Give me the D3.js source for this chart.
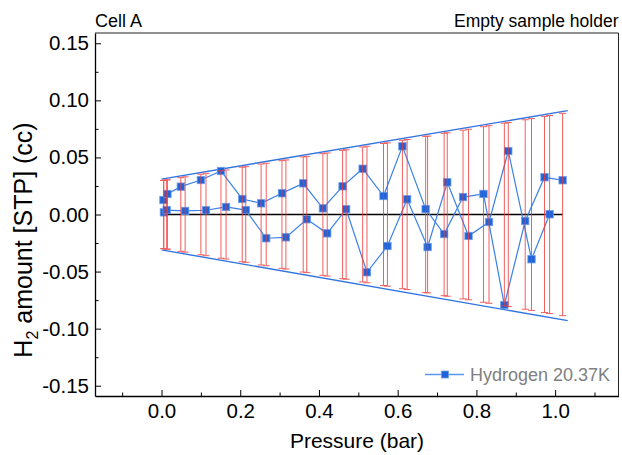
<!DOCTYPE html>
<html lang="en">
<head>
<meta charset="UTF-8">
<title>Cell A - Empty sample holder</title>
<script src="https://d3js.org/d3.v7.min.js"></script>
<style>
  body { margin: 0; background: #fff; }
  text { font-family: "Liberation Sans", Arial, sans-serif; }
</style>
</head>
<body>
<svg width="622" height="455"></svg>
<script>
// branch A (lower pressure of each pair)
const pressureA = [0.005, 0.015, 0.049, 0.100, 0.151, 0.205, 0.253, 0.306, 0.360, 0.410, 0.460,
                   0.511, 0.564, 0.612, 0.671, 0.718, 0.766, 0.818, 0.871, 0.924, 0.973, 1.019];
const amountA   = [0.0127, 0.0180, 0.0244, 0.0302, 0.0381, 0.0136, 0.0098, 0.0186, 0.0273, 0.0054, 0.0247,
                   0.0401, 0.0162, 0.0597, 0.0048, -0.0171, 0.0153, 0.0180, -0.0793, -0.0057, 0.0326, 0.0300];
const errorA    = [0.0298, 0.0304, 0.0323, 0.0353, 0.0383, 0.0414, 0.0442, 0.0472, 0.0504, 0.0533, 0.0562,
                   0.0591, 0.0622, 0.0650, 0.0684, 0.0711, 0.0739, 0.0769, 0.0800, 0.0830, 0.0859, 0.0886];

// branch B
const pressureB = [0.006, 0.013, 0.060, 0.113, 0.164, 0.214, 0.266, 0.316, 0.369, 0.421, 0.469,
                   0.522, 0.574, 0.624, 0.676, 0.726, 0.780, 0.832, 0.881, 0.940, 0.986];
const amountB   = [0.0019, 0.0039, 0.0031, 0.0037, 0.0066, 0.0039, -0.0208, -0.0200, -0.0042, -0.0165, 0.0046,
                   -0.0506, -0.0276, 0.0133, -0.0285, 0.0282, -0.0188, -0.0066, 0.0556, -0.0392, 0.0002];
const errorB    = [0.0298, 0.0303, 0.0330, 0.0361, 0.0390, 0.0419, 0.0449, 0.0478, 0.0509, 0.0539, 0.0567,
                   0.0598, 0.0628, 0.0657, 0.0687, 0.0716, 0.0747, 0.0778, 0.0806, 0.0840, 0.0867];

// uncertainty envelope
const envelopeP     = [0.0, 1.032];
const envelopeUpper = [0.031, 0.091];
const envelopeLower = [-0.031, -0.093];

const xTicks = [0.0, 0.2, 0.4, 0.6, 0.8, 1.0];
const xTickLabels = ["0.0", "0.2", "0.4", "0.6", "0.8", "1.0"];
const xMinor = [-0.1, 0.1, 0.3, 0.5, 0.7, 0.9, 1.1];
const yTicks = [-0.15, -0.10, -0.05, 0.0, 0.05, 0.10, 0.15];
const yTickLabels = ["-0.15", "-0.10", "-0.05", "0.00", "0.05", "0.10", "0.15"];
const yMinor = [-0.125, -0.075, -0.025, 0.025, 0.075, 0.125];

const svg = d3.select("svg");
const x = d3.scaleLinear().domain([-0.169, 1.161]).range([95, 618.5]);
const y = d3.scaleLinear().domain([-0.159, 0.159]).range([396, 33]);

const blue = "#2f74e0", markBlue = "#1f64d8", red = "#f03838";

// zip series
const ptsA = pressureA.map((p, i) => ({p: p, v: amountA[i], e: errorA[i]}));
const ptsB = pressureB.map((p, i) => ({p: p, v: amountB[i], e: errorB[i]}));
const allPts = ptsA.concat(ptsB).sort((a, b) => a.p - b.p);

// envelope lines
const env = d3.line().x(d => x(d[0])).y(d => y(d[1]));
[envelopeUpper, envelopeLower].forEach(arr => {
  svg.append("path")
    .attr("d", env(envelopeP.map((p, i) => [p, arr[i]])))
    .attr("fill", "none").attr("stroke", blue).attr("stroke-width", 1.4);
});

// zero reference line
svg.append("path")
  .attr("d", d3.line().x(d => x(d.p)).y(() => y(0))(allPts))
  .attr("fill", "none").attr("stroke", "#000").attr("stroke-width", 1.3);

// data lines
const line = d3.line().x(d => x(d.p)).y(d => y(d.v));
[ptsA, ptsB].forEach(s => {
  svg.append("path").attr("d", line(s))
    .attr("fill", "none").attr("stroke", "#3a80e8").attr("stroke-width", 1.2);
});

// markers
svg.append("g").selectAll("rect")
  .data(allPts).enter().append("rect")
  .attr("x", d => x(d.p) - 3.7).attr("y", d => y(d.v) - 3.7)
  .attr("width", 7.4).attr("height", 7.4)
  .attr("fill", markBlue).attr("stroke", "#6c9fec").attr("stroke-width", 0.8);

// error bars centred on zero
const eb = svg.append("g").attr("stroke", red).attr("stroke-width", 1).attr("opacity", 0.8);
allPts.forEach(d => {
  const cx = x(d.p);
  eb.append("line").attr("x1", cx).attr("x2", cx).attr("y1", y(d.e)).attr("y2", y(-d.e));
  eb.append("line").attr("x1", cx - 3.5).attr("x2", cx + 3.5).attr("y1", y(d.e)).attr("y2", y(d.e));
  eb.append("line").attr("x1", cx - 3.5).attr("x2", cx + 3.5).attr("y1", y(-d.e)).attr("y2", y(-d.e));
});

// axes
const xAxis = svg.append("g").attr("transform", "translate(0,396)")
  .call(d3.axisBottom(x).tickValues(xTicks).tickFormat((d, i) => xTickLabels[i])
    .tickSizeInner(-6).tickSizeOuter(0).tickPadding(7.5));
svg.append("g").attr("transform", "translate(0,396)")
  .call(d3.axisBottom(x).tickValues(xMinor).tickFormat("").tickSizeInner(-3.5).tickSizeOuter(0))
  .select(".domain").remove();
const yAxis = svg.append("g").attr("transform", "translate(95,0)")
  .call(d3.axisLeft(y).tickValues(yTicks).tickFormat((d, i) => yTickLabels[i])
    .tickSizeInner(-6).tickSizeOuter(0).tickPadding(6));
svg.append("g").attr("transform", "translate(95,0)")
  .call(d3.axisLeft(y).tickValues(yMinor).tickFormat("").tickSizeInner(-3.5).tickSizeOuter(0))
  .select(".domain").remove();

svg.selectAll(".domain").attr("stroke-width", 1.3);
[xAxis, yAxis].forEach(a => a.selectAll("text")
  .attr("font-size", "20.5px").attr("fill", "#000")
  .style("font-family", "'Liberation Sans', Arial, sans-serif"));

// frame top + right
svg.append("path").attr("d", "M95,33H618.5V396")
  .attr("fill", "none").attr("stroke", "#222").attr("stroke-width", 1);

// titles
svg.append("text").attr("x", 95).attr("y", 27).attr("font-size", "18px").text("Cell A");
svg.append("text").attr("x", 618.5).attr("y", 27).attr("font-size", "17.5px")
  .attr("text-anchor", "end").text("Empty sample holder");

svg.append("text").attr("x", 357).attr("y", 448).attr("font-size", "21px")
  .attr("text-anchor", "middle").text("Pressure (bar)");

const yl = svg.append("text").attr("transform", "translate(32,240) rotate(-90)")
  .attr("font-size", "25px").attr("text-anchor", "middle");
yl.append("tspan").text("H");
yl.append("tspan").attr("font-size", "16px").attr("dy", 6).text("2");
yl.append("tspan").attr("dy", -6).text(" amount [STP] (cc)");

// legend
const lg = svg.append("g");
lg.append("line").attr("x1", 425).attr("x2", 464).attr("y1", 374.5).attr("y2", 374.5)
  .attr("stroke", "#5a96ee").attr("stroke-width", 1.3);
lg.append("rect").attr("x", 441.5).attr("y", 371).attr("width", 7).attr("height", 7)
  .attr("fill", markBlue).attr("stroke", "#6c9fec").attr("stroke-width", 0.8);
lg.append("text").attr("x", 470).attr("y", 381).attr("font-size", "18px").attr("fill", "#808080")
  .text("Hydrogen 20.37K");
</script>
</body>
</html>
